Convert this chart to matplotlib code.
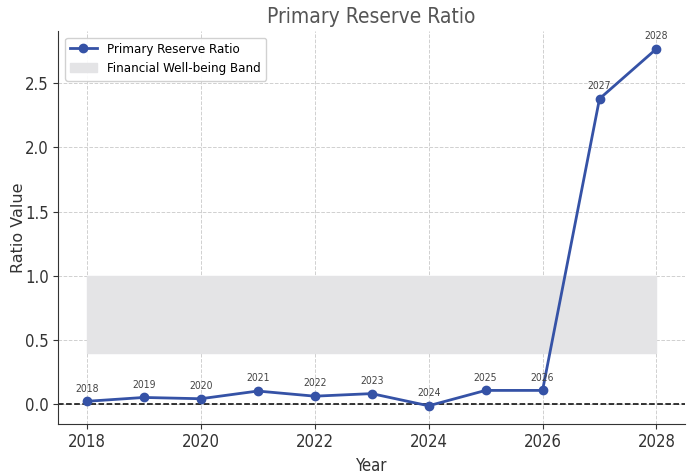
import matplotlib.pyplot as plt

years = [2018, 2019, 2020, 2021, 2022, 2023, 2024, 2025, 2026, 2027, 2028]
ratio = [0.02, 0.05, 0.04, 0.10, 0.06, 0.08, -0.015, 0.105, 0.105, 2.38, 2.77]
band_low = 0.4
band_high = 1.0

plt.rcParams["font.family"] = ["DejaVu Sans"]
plt.rcParams["font.stretch"] = "condensed"

fig, ax = plt.subplots(figsize=(6.87, 4.76), dpi=100)
fig.subplots_adjust(left=0.085, right=0.997, top=0.935, bottom=0.11)

line, = ax.plot(years, ratio, marker="o", color="#3552a6", linewidth=2, markersize=6,
                label="Primary Reserve Ratio", zorder=3)
band = ax.fill_between(years, band_low, band_high, color="#e4e4e6",
                       label="Financial Well-being Band", zorder=1)
ax.axhline(0, color="black", linestyle="--", linewidth=1.1, zorder=2)

for x, y in zip(years, ratio):
    ax.annotate(str(x), (x, y), textcoords="offset points", xytext=(0, 7),
                ha="center", fontsize=7.5, color="#444444")

ax.set_title("Primary Reserve Ratio", fontsize=15, color="#555555")
ax.set_xlabel("Year", fontsize=12, color="#333333")
ax.set_ylabel("Ratio Value", fontsize=11.5, color="#333333", fontstretch="normal")
ax.yaxis.set_label_coords(-0.052, 0.5)
ax.tick_params(labelsize=12, colors="#333333")
ax.grid(True, linestyle="--", color="#d0d0d0", linewidth=0.7)
ax.set_axisbelow(True)
for side in ("top", "right"):
    ax.spines[side].set_visible(False)
ax.spines["left"].set_color("#333333")
ax.spines["bottom"].set_color("#333333")

ax.legend(handles=[line, band], loc="upper left", fontsize=9.5, frameon=True, framealpha=0.9)

fig.savefig("out.png")
